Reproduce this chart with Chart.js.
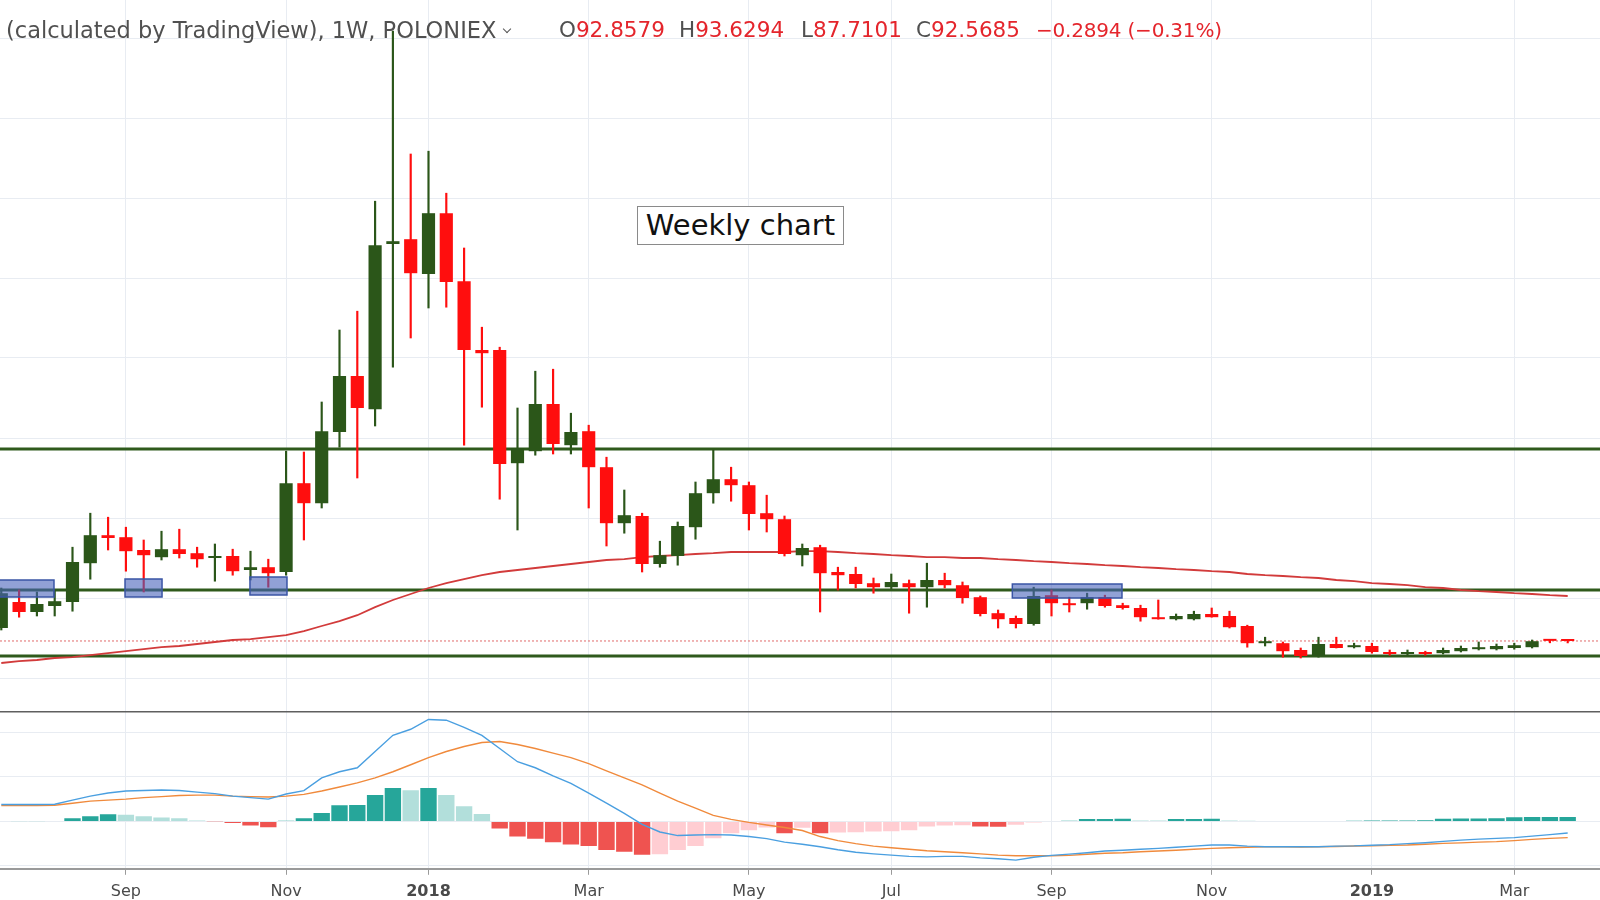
<!DOCTYPE html>
<html>
<head>
<meta charset="utf-8">
<script src="https://cdn.jsdelivr.net/npm/chart.js@4.4.1/dist/chart.umd.min.js"></script>
<style>
  html, body { margin: 0; padding: 0; background: #fff; }
  body { width: 1600px; height: 900px; position: relative; overflow: hidden; font-family: 'DejaVu Sans', sans-serif; }
  #priceWrap { position: absolute; left: 0; top: 0; width: 1600px; height: 711px; }
  #macdWrap { position: absolute; left: 0; top: 711px; width: 1600px; height: 199px; }
  .hdr { position: absolute; top: 15px; font-size: 22.5px; line-height: 30px; color: #505050; white-space: nowrap; }
  .hdr .red { color: #e4252c; }
  .hdr.num { font-size: 21.5px; }
  .chev { display: inline-block; width: 5px; height: 5px; margin: 0 0 6px 8px; border-right: 1.5px solid #555; border-bottom: 1.5px solid #555; transform: rotate(45deg); }
  #note { position: absolute; left: 637px; top: 206px; width: 205px; height: 37px; border: 1px solid #8a8a8a; background: #fff;
          font-size: 29px; line-height: 37px; text-align: center; color: #111; }
</style>
</head>
<body>
<div id="priceWrap"><canvas id="price"></canvas></div>
<div id="macdWrap"><canvas id="macd"></canvas></div>

<div class="hdr" style="left:6px">(calculated by TradingView), 1W, POLONIEX<span class="chev"></span></div>
<div class="hdr num" style="left:559px">O<span class="red">92.8579</span></div>
<div class="hdr num" style="left:679px">H<span class="red">93.6294</span></div>
<div class="hdr num" style="left:801px">L<span class="red">87.7101</span></div>
<div class="hdr num" style="left:916px">C<span class="red">92.5685</span></div>
<div class="hdr num" style="left:1036px; font-size:20px; letter-spacing:-0.2px"><span class="red">−0.2894 (−0.31%)</span></div>
<div id="note">Weekly chart</div>

<script>
/* ---------- data (weekly bars, 2017-07-17 .. 2019-03-25) ---------- */
const open = [125,190,165,180,190,287,357,352,320,302, 322,312,300,305,270,277,265,487,437,615,
  755,672,1085,1097,1010,1162,992,820,820,537, 567,685,582,617,527,387,405,285,305,377,
  462,497,482,412,397,307,327,265,260,237, 227,237,227,245,232,202,162,150,135,207,
  187,187,202,182,175,152,147,147,160,155, 130,87,87,70,55,85,77,80,65,60,
  65,62,67,72,72,75,77,94.5,92.8579];
const high = [225,220,215,220,327,412,402,377,345,367, 372,327,335,322,317,297,567,565,690,870,
  917,1192,1617,1310,1317,1212,1075,877,827,675, 767,772,662,632,552,470,412,342,390,490,
  570,527,490,457,405,335,332,277,277,250, 260,245,287,262,240,205,170,155,227,220,
  202,212,207,187,182,195,160,167,175,167, 132,102,90,75,102,102,87,87,70,70,
  67,75,80,90,85,87,95,96,93.6294];
const low = [120,152,155,155,167,247,320,267,215,295, 300,277,242,257,245,227,257,345,425,577,
  500,630,777,850,925,927,582,677,447,370, 557,560,560,425,330,362,265,277,282,347,
  437,442,370,365,305,280,165,220,225,212, 222,162,177,225,187,155,125,125,132,155,
  165,172,177,172,142,147,145,145,152,125, 77,80,52,50,52,75,75,62,57,57,
  57,60,65,70,70,72,75,88,87.7101];
const close = [212,165,185,192,290,357,350,317,307,322, 310,297,305,267,277,262,487,437,617,755,
  675,1082,1092,1012,1162,990,820,812,535,575, 685,585,615,527,387,407,285,307,380,462,
  497,482,410,397,310,325,262,257,235,227, 240,227,245,232,200,160,147,135,205,187,
  182,202,180,175,152,147,155,160,152,127, 87,90,67,55,85,75,82,65,60,65,
  60,70,75,77,80,82,92,92.86,92.5685];
const ma = [37.5,42,45,50,52,57,62,67,72,77, 80,85,90,95,97,102,107,117,130,142,
  157,177,195,210,225,237,247,257,265,270, 275,280,285,290,295,297,302,305,307,310,
  312,315,315,315,315,317,317,315,312,310, 307,305,302,302,300,300,297,295,292,290,
  287,285,282,280,277,275,272,270,267,265, 260,257,255,252,250,245,242,237,235,232,
  227,225,220,217,215,212,210,207,205];

const macdLine = [19.0,19.0,19.0,19.3,23.9,28.4,31.8,34.1,34.6,35.2, 34.6,32.9,31.2,28.4,26.7,25.0,30.7,34.6,48.8,55.7,
  60.2,78.4,96.6,103.4,114.4,113.6,105.6,96.6,81.8,67.0, 60.2,51.1,42.6,31.8,20.4,9.1,-3.4,-11.9,-15.9,-15.3,
  -14.8,-15.3,-17.0,-19.3,-23.3,-25.6,-28.4,-31.8,-34.6,-36.4, -37.8,-39.2,-39.8,-39.2,-39.2,-40.9,-42.0,-43.5,-40.3,-38.1,
  -36.7,-35.2,-33.3,-32.4,-31.2,-30.3,-29.0,-27.8,-26.5,-26.5, -27.8,-28.4,-28.4,-28.4,-28.4,-27.8,-27.5,-26.7,-26.1,-25.0,
  -23.9,-22.4,-21.0,-19.9,-19.1,-18.2,-16.5,-14.8,-13.1];
const signalLine = [17.8,17.8,17.8,18.2,20.4,22.7,23.9,25.0,26.7,27.8, 29.0,29.5,29.5,28.4,27.8,27.3,28.4,30.3,34.1,38.6,
  43.2,48.8,55.7,63.6,71.6,78.4,84.1,88.6,89.7,86.3, 81.8,76.7,71.6,64.8,56.8,48.8,40.9,31.8,22.7,14.8,
  6.8,2.3,-1.1,-4.0,-6.8,-10.2,-17.0,-21.6,-25.0,-27.8, -29.5,-31.2,-32.9,-34.1,-35.2,-36.4,-37.8,-38.6,-38.6,-38.6,
  -38.1,-36.9,-35.8,-35.2,-34.1,-33.3,-32.4,-31.2,-30.3,-29.5, -29.0,-28.6,-28.6,-28.7,-28.4,-28.1,-27.6,-27.3,-26.9,-26.5,
  -25.6,-24.7,-24.1,-23.3,-22.7,-21.6,-20.2,-19.1,-18.2];
const histogram = [0.5,0.3,0.3,0.5,3.4,5.7,8,7.5,5.7,4.5, 3.4,1.1,-0.3,-1.7,-4.5,-6.5,0.8,3.4,9.5,18,
  18.3,29.5,37.5,35,37.6,29.5,17,8.3,-8,-17, -19.5,-23.5,-26,-27.5,-32,-34,-37.5,-37,-32,-27.5,
  -19,-13.3,-10,-6.8,-13.3,-7,-13.3,-12.5,-12.2,-11.4, -11,-10,-5.7,-4.6,-4.2,-5.7,-6,-3.8,-1.1,0,
  0.8,2.6,2.8,3.1,1.1,1.1,2.6,2.8,3.1,1.1, 0.6,0,0,0,0,0,0.8,0.9,1,1.1,
  1.25,3.1,3.2,3.3,3.4,4.6,4.8,4.9,5];

// horizontal levels + last close
const levels = [572.5, 220, 55];
const lastClose = 92.5685;

// blue zones (week index range, price range)
const zoneStart = [-0.5, 6.95, 13.97, 56.8];
const zoneEnd   = [2.96, 9.03, 16.05, 62.96];
const zoneHigh  = [245, 247.5, 252.5, 235];
const zoneLow   = [202.5, 202.5, 207.5, 200];

// x axis ticks (week index -> label)
const tickWeeks  = [7, 16, 24, 33, 42, 50, 59, 68, 77, 85];
const tickLabels = ['Sep', 'Nov', '2018', 'Mar', 'May', 'Jul', 'Sep', 'Nov', '2019', 'Mar'];
const priceGrid = [0, 200, 400, 600, 800, 1000, 1200, 1400, 1600];
const macdGrid  = [-50, 0, 50, 100];

/* ---------- styles ---------- */
const UP = '#2b5619';
const DOWN = '#ff0e0e';
const GRID = '#e8ecf2';
const X_MIN = -0.073, X_MAX = 89.815;

const candleColors = open.map((o, i) => close[i] >= o ? UP : DOWN);
const histColors = histogram.map((h, i) => {
  const prev = i > 0 ? histogram[i - 1] : 0;
  if (h >= 0) return h > prev ? '#26a69a' : '#b2dfdb';
  return h < prev ? '#ef5350' : '#ffcdd2';
});

const xScaleBase = {
  type: 'linear', min: X_MIN, max: X_MAX, offset: false,
  afterBuildTicks: s => { s.ticks = tickWeeks.map(v => ({ value: v })); }
};

// semi-transparent blue zones drawn over candles
const zonesPlugin = {
  id: 'zones',
  afterDatasetsDraw(chart) {
    const { ctx, scales: { x, y } } = chart;
    ctx.save();
    zoneStart.forEach((s, k) => {
      const l = x.getPixelForValue(s), r = x.getPixelForValue(zoneEnd[k]);
      const t = y.getPixelForValue(zoneHigh[k]), b = y.getPixelForValue(zoneLow[k]);
      ctx.fillStyle = 'rgba(72,98,186,0.6)';
      ctx.fillRect(l, t, r - l, b - t);
      ctx.strokeStyle = '#3a55a5';
      ctx.lineWidth = 1.5;
      ctx.strokeRect(l, t, r - l, b - t);
    });
    ctx.restore();
  }
};

// pane separator on top of the MACD pane
const separatorPlugin = {
  id: 'separator',
  afterDraw(chart) {
    const { ctx, width } = chart;
    ctx.save();
    ctx.strokeStyle = '#5f5f5f';
    ctx.lineWidth = 1.5;
    ctx.beginPath();
    ctx.moveTo(0, 0.75);
    ctx.lineTo(width, 0.75);
    ctx.stroke();
    ctx.restore();
  }
};

const hLine = (v, color, width, dash, order) => ({
  type: 'line',
  data: [{ x: X_MIN, y: v }, { x: X_MAX, y: v }],
  borderColor: color, borderWidth: width, borderDash: dash,
  pointRadius: 0, order
});

/* ---------- price pane ---------- */
new Chart(document.getElementById('price'), {
  type: 'bar',
  data: {
    datasets: [
      {
        label: 'body',
        data: open.map((o, i) => ({ x: i, y: [o, close[i]] })),
        backgroundColor: candleColors,
        barPercentage: 0.74, categoryPercentage: 1, minBarLength: 2,
        grouped: false, order: 1
      },
      {
        label: 'wick',
        data: low.map((l, i) => ({ x: i, y: [l, high[i]] })),
        backgroundColor: candleColors,
        barThickness: 1.5, grouped: false, order: 2
      },
      {
        type: 'line', label: 'MA',
        data: ma.map((v, i) => ({ x: i, y: v })),
        borderColor: '#d23b3b', borderWidth: 1.8, pointRadius: 0, order: 3
      },
      ...levels.map(v => hLine(v, '#2f5a1c', 3, [], 4)),
      hLine(lastClose, '#e06a6a', 1, [2, 2], 5)
    ]
  },
  options: {
    responsive: true, maintainAspectRatio: false, animation: false, events: [],
    layout: { padding: 0 },
    plugins: { legend: { display: false }, tooltip: { enabled: false } },
    scales: {
      x: { ...xScaleBase, ticks: { display: false }, grid: { color: GRID, drawTicks: false, offset: false }, border: { display: false } },
      y: {
        min: -82.5, max: 1695,
        afterBuildTicks: s => { s.ticks = priceGrid.map(v => ({ value: v })); },
        ticks: { display: false }, grid: { color: GRID, drawTicks: false }, border: { display: false }
      }
    }
  },
  plugins: [zonesPlugin]
});

/* ---------- MACD pane ---------- */
new Chart(document.getElementById('macd'), {
  type: 'bar',
  data: {
    datasets: [
      {
        type: 'line', label: 'MACD',
        data: macdLine.map((v, i) => ({ x: i, y: v })),
        borderColor: '#4a9fe0', borderWidth: 1.4, pointRadius: 0, order: 1
      },
      {
        type: 'line', label: 'Signal',
        data: signalLine.map((v, i) => ({ x: i, y: v })),
        borderColor: '#f08a3c', borderWidth: 1.4, pointRadius: 0, order: 2
      },
      {
        label: 'Histogram',
        data: histogram.map((v, i) => ({ x: i, y: v })),
        backgroundColor: histColors,
        barPercentage: 0.92, categoryPercentage: 1, grouped: false, order: 3
      }
    ]
  },
  options: {
    responsive: true, maintainAspectRatio: false, animation: false, events: [],
    layout: { padding: { bottom: 2 } },
    plugins: { legend: { display: false }, tooltip: { enabled: false } },
    scales: {
      x: {
        ...xScaleBase,
        ticks: {
          autoSkip: false, maxRotation: 0, padding: 7, color: '#4a4a4a',
          font: ctx => ({ family: 'DejaVu Sans', size: 16, weight: /^\d{4}$/.test(ctx.tick && ctx.tick.label) ? 'bold' : 'normal' }),
          callback: v => tickLabels[tickWeeks.indexOf(v)]
        },
        grid: { color: GRID, tickColor: '#9a9a9a', tickLength: 6, offset: false },
        border: { display: true, color: '#9a9a9a', width: 2 }
      },
      y: {
        min: -53.2, max: 123.9,
        afterBuildTicks: s => { s.ticks = macdGrid.map(v => ({ value: v })); },
        ticks: { display: false }, grid: { color: GRID, drawTicks: false }, border: { display: false }
      }
    }
  },
  plugins: [separatorPlugin]
});
</script>
</body>
</html>
